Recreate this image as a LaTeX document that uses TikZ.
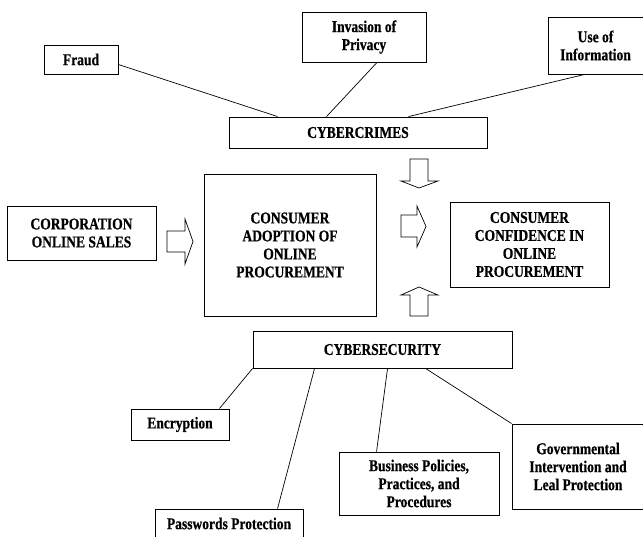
\documentclass[tikz,border=0pt]{standalone}
\usepackage{fontspec}
\setmainfont{Liberation Serif}[FakeStretch=0.82, BoldFeatures={FakeBold=0.6}]

\tikzset{
  box/.style={draw, line width=0.9pt, align=center, inner sep=0pt,
    font=\bfseries\fontsize{16.5}{18}\selectfont},
  link/.style={line width=0.7pt},
  blockarrow/.style={draw, line width=0.7pt, fill=white}
}

\begin{document}
\begin{tikzpicture}[x=1pt,y=-1pt]
        \useasboundingbox (0,0) rectangle (643,536);

        % cybercrimes and its causes
        \node[box, minimum width=74, minimum height=29]  (fraud)   at (81,59.5)    {Fraud};
        \node[box, minimum width=124, minimum height=50] (privacy) at (364,37)     {Invasion of\\Privacy};
        \node[box, minimum width=95, minimum height=57]  (useinfo) at (595.5,45.5) {Use of\\Information};
        \node[box, minimum width=258, minimum height=31] (crimes)  at (358,132.5)  {CYBERCRIMES};

        \draw [link] ([yshift=-5]fraud.east) -- ([xshift=49]crimes.north west);
        \draw [link] ([xshift=13]privacy.south) -- ([xshift=98]crimes.north west);
        \draw [link] ([xshift=37]useinfo.south west) -- ([xshift=180]crimes.north west);

        % middle row
        \node[box, minimum width=149, minimum height=54] (corp)       at (81.5,233)   {CORPORATION\\ONLINE SALES};
        \node[box, minimum width=172, minimum height=142] (adoption)  at (290,245)    {CONSUMER\\ADOPTION OF\\ONLINE\\PROCUREMENT};
        \node[box, minimum width=159, minimum height=85] (confidence) at (529.5,244.5) {CONSUMER\\CONFIDENCE IN\\ONLINE\\PROCUREMENT};

        % block arrows
        \draw [blockarrow] (167,231) -- (185,231) -- (185,219) -- (193,241.5)
            -- (185,264) -- (185,252) -- (167,252) -- cycle;
        \draw [blockarrow] (401,215) -- (417,215) -- (417,206) -- (426,226.5)
            -- (417,247) -- (417,237) -- (401,237) -- cycle;
        \draw [blockarrow] (410,159) -- (428,159) -- (428,181) -- (438,181)
            -- (419,188) -- (401,181) -- (410,181) -- cycle;
        \draw [blockarrow] (410,316) -- (428,316) -- (428,295) -- (438,295)
            -- (419,287) -- (401,295) -- (410,295) -- cycle;

        % cybersecurity and its measures
        \node[box, minimum width=259, minimum height=37] (security)   at (382.5,349.5) {CYBERSECURITY};
        \node[box, minimum width=98, minimum height=31]  (encryption) at (180,424.5)   {Encryption};
        \node[box, minimum width=148, minimum height=29] (passwords)  at (229,523.5)   {Passwords Protection};
        \node[box, minimum width=160, minimum height=63] (business)   at (419,483.5)   {Business Policies,\\Practices, and\\Procedures};
        \node[box, minimum width=132, minimum height=85] (govern)     at (578,466.5)   {Governmental\\Intervention and\\Leal Protection};

        \draw [link] (security.south west) -- ([xshift=-10]encryption.north east);
        \draw [link] ([xshift=62]security.south west) -- ([xshift=123]passwords.north west);
        \draw [link] ([xshift=135]security.south west) -- ([xshift=38]business.north west);
        \draw [link] ([xshift=173]security.south west) -- (govern.north west);
    \end{tikzpicture}
\end{document}
